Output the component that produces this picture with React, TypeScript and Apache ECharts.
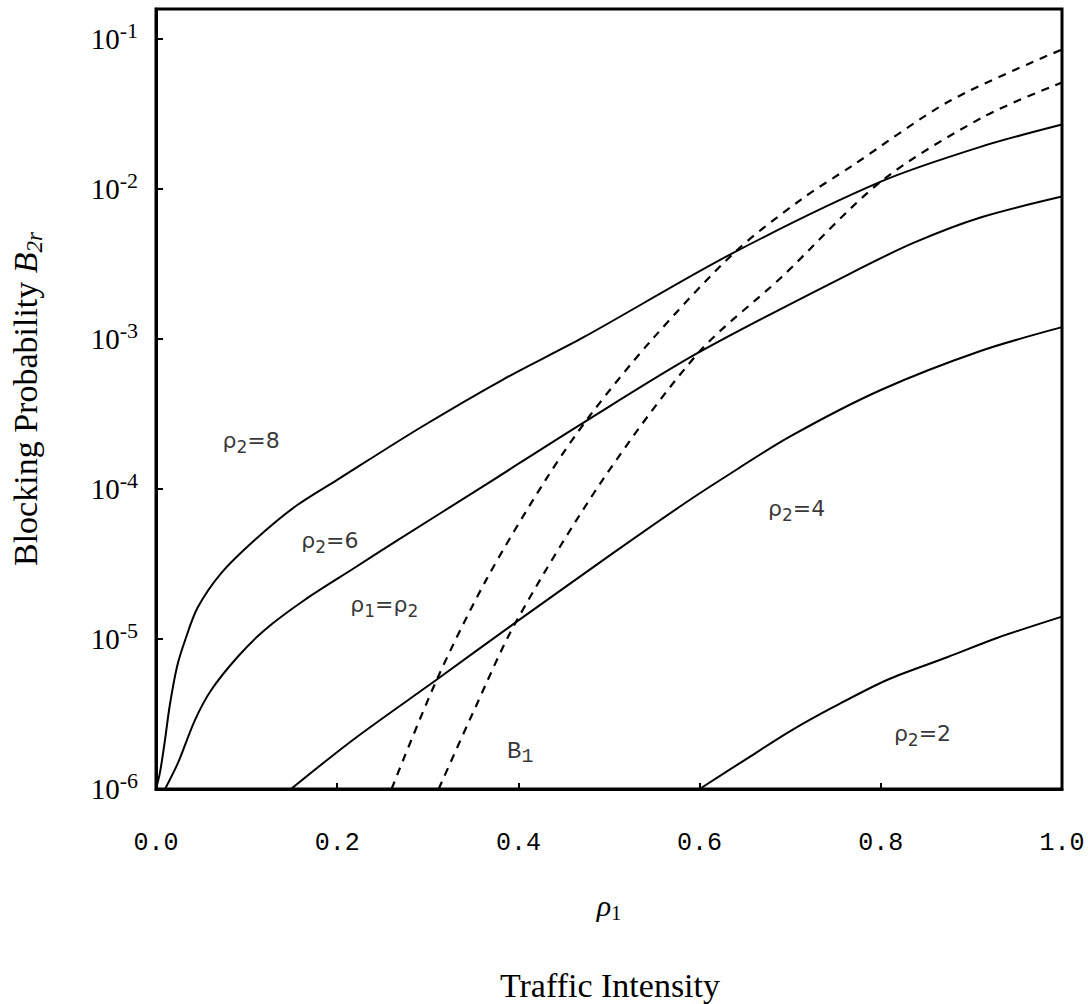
import React, { useEffect, useRef } from "react";
import * as echarts from "echarts";

// ---- data (x = rho1, y = blocking probability) ----
const rho8X = [0, 0.0044, 0.01, 0.015, 0.023, 0.032, 0.046, 0.072, 0.109, 0.153, 0.2, 0.292, 0.383, 0.471, 0.636, 0.8, 0.91, 1.0];
const rho8Y = [1.0e-6, 1.29e-6, 2.14e-6, 3.55e-6, 6.46e-6, 9.77e-6, 1.62e-5, 2.75e-5, 4.57e-5, 7.59e-5, 1.15e-4, 2.57e-4, 5.37e-4, 1.02e-3, 3.72e-3, 1.12e-2, 1.91e-2, 2.69e-2];

const rho6X = [0.01, 0.024, 0.043, 0.061, 0.09, 0.12, 0.164, 0.218, 0.262, 0.364, 0.471, 0.599, 0.764, 0.836, 0.91, 1.0];
const rho6Y = [1.0e-6, 1.48e-6, 2.88e-6, 4.57e-6, 7.59e-6, 1.15e-5, 1.82e-5, 2.95e-5, 4.37e-5, 1.07e-4, 2.75e-4, 8.13e-4, 2.69e-3, 4.37e-3, 6.46e-3, 8.91e-3];

const eqX = [0.149, 0.218, 0.31, 0.397, 0.504, 0.58, 0.625, 0.7, 0.8, 0.91, 1.0];
const eqY = [1.0e-6, 2.14e-6, 5.37e-6, 1.29e-5, 3.72e-5, 7.76e-5, 1.17e-4, 2.24e-4, 4.57e-4, 8.32e-4, 1.2e-3];

const rho2X = [0.6, 0.654, 0.701, 0.749, 0.808, 0.874, 0.929, 1.0];
const rho2Y = [1.0e-6, 1.62e-6, 2.45e-6, 3.55e-6, 5.37e-6, 7.59e-6, 1.02e-5, 1.41e-5];

const b1aX = [0.26, 0.31, 0.364, 0.43, 0.479, 0.548, 0.639, 0.712, 0.767, 0.877, 1.0];
const b1aY = [1.0e-6, 5.37e-6, 2.45e-5, 1.15e-4, 3.09e-4, 1.0e-3, 3.8e-3, 8.51e-3, 1.41e-2, 3.89e-2, 8.51e-2];

const b1bX = [0.312, 0.35, 0.397, 0.493, 0.599, 0.69, 0.8, 0.913, 1.0];
const b1bY = [1.0e-6, 3.24e-6, 1.29e-5, 1.15e-4, 8.13e-4, 2.57e-3, 1.12e-2, 3.02e-2, 5.13e-2];

// curve annotations: text pieces and data-space anchor
const labelTexts = ["{r|ρ}{s|2}{r|=8}", "{r|ρ}{s|2}{r|=6}", "{r|ρ}{s|1}{r|=ρ}{s|2}", "{m|B}{ms|1}", "{r|ρ}{s|2}{r|=4}", "{r|ρ}{s|2}{r|=2}"];
const labelX = [0.105, 0.192, 0.252, 0.402, 0.707, 0.846];
const labelY = [2.1e-4, 4.57e-5, 1.69e-5, 1.77e-6, 7.47e-5, 2.33e-6];

const Y_MIN = 1e-6;
const Y_MAX = 0.1585;

const zip = (xs: number[], ys: number[]) => xs.map((x, i) => [x, ys[i]]);

const SERIF = "'Liberation Serif', 'Times New Roman', serif";
const MONO = "'Liberation Mono', 'DejaVu Sans Mono', monospace";
const SANS = "'DejaVu Sans', 'Liberation Sans', sans-serif";

export default function App() {
  const ref = useRef<HTMLDivElement>(null);
  useEffect(() => {
    if (!ref.current) return;
    const chart = echarts.init(ref.current, undefined, { renderer: "svg" });

    const solid = (name: string, data: number[][]) => ({
      name,
      type: "line",
      data,
      showSymbol: false,
      symbol: "none",
      smooth: 0.3,
      lineStyle: { color: "#000", width: 2, type: "solid" },
      silent: true,
      z: 3,
    });
    const dashed = (name: string, data: number[][]) => ({
      name,
      type: "line",
      data,
      showSymbol: false,
      symbol: "none",
      smooth: 0.3,
      lineStyle: { color: "#000", width: 2.2, type: [8, 7] },
      silent: true,
      z: 3,
    });

    chart.setOption({
      animation: false,
      backgroundColor: "#fff",
      grid: {
        left: 151,
        right: 26,
        top: 9,
        bottom: 215,
        show: true,
        borderColor: "#000",
        borderWidth: 3,
        backgroundColor: "transparent",
      },
      xAxis: {
        type: "value",
        min: 0,
        max: 1,
        interval: 0.2,
        name: "{i|ρ}{s|1}",
        nameLocation: "middle",
        nameGap: 98,
        nameTextStyle: {
          rich: {
            i: { fontFamily: SERIF, fontStyle: "italic", fontSize: 30, color: "#000", lineHeight: 36, verticalAlign: "middle" },
            s: { fontFamily: SERIF, fontSize: 20, color: "#000", lineHeight: 20, verticalAlign: "bottom" },
          },
        },
        axisLine: { show: true, lineStyle: { color: "#000", width: 3 } },
        axisTick: { show: true, inside: true, length: 6, lineStyle: { color: "#000", width: 2 } },
        splitLine: { show: false },
        axisLabel: {
          margin: 42,
          fontFamily: MONO,
          fontSize: 25,
          color: "#000",
          formatter: (v: number) => v.toFixed(1),
        },
      },
      yAxis: {
        type: "log",
        logBase: 10,
        min: Y_MIN,
        max: Y_MAX,
        name: "{a|Blocking Probability }{b|B}{c|2r}",
        nameLocation: "middle",
        nameGap: 110,
        nameTextStyle: {
          rich: {
            a: { fontFamily: SERIF, fontSize: 34, color: "#000", lineHeight: 42, verticalAlign: "middle" },
            b: { fontFamily: SERIF, fontStyle: "italic", fontSize: 34, color: "#000", lineHeight: 42, verticalAlign: "middle" },
            c: { fontFamily: SERIF, fontStyle: "italic", fontSize: 23, color: "#000", lineHeight: 23, verticalAlign: "bottom" },
          },
        },
        axisLine: { show: true, lineStyle: { color: "#000", width: 3 } },
        axisTick: { show: true, inside: true, length: 7, lineStyle: { color: "#000", width: 2 } },
        splitLine: { show: false },
        minorTick: { show: false },
        axisLabel: {
          margin: 18,
          formatter: (v: number) => {
            const l = Math.log10(v);
            const e = Math.round(l);
            if (Math.abs(l - e) > 0.01) return "";
            return "{b|10}{s|" + String(e) + "}";
          },
          rich: {
            b: { fontFamily: SERIF, fontSize: 29, color: "#000", lineHeight: 40, verticalAlign: "middle" },
            s: { fontFamily: SERIF, fontSize: 22, color: "#000", lineHeight: 22, verticalAlign: "top" },
          },
        },
      },
      graphic: [
        {
          type: "text",
          style: {
            text: "Traffic Intensity",
            x: 610,
            y: 985,
            align: "center",
            verticalAlign: "middle",
            font: "34px " + SERIF,
            fill: "#000",
          },
        },
      ],
      series: [
        solid("ρ2=8", zip(rho8X, rho8Y)),
        solid("ρ2=6", zip(rho6X, rho6Y)),
        solid("ρ1=ρ2", zip(eqX, eqY)),
        solid("ρ2=2", zip(rho2X, rho2Y)),
        dashed("B1 (a)", zip(b1aX, b1aY)),
        dashed("B1 (b)", zip(b1bX, b1bY)),
        {
          name: "labels",
          type: "scatter",
          symbolSize: 0,
          silent: true,
          z: 5,
          data: labelX.map((x, i) => ({
            value: [x, labelY[i]],
            label: {
              show: true,
              position: "inside",
              formatter: labelTexts[i],
            },
          })),
          label: {
            show: true,
            position: "inside",
            rich: {
              r: { fontFamily: SANS, fontSize: 22, color: "#000", lineHeight: 30, verticalAlign: "middle" },
              s: { fontFamily: SANS, fontSize: 17, color: "#000", lineHeight: 17, verticalAlign: "bottom" },
              m: { fontFamily: MONO, fontSize: 24, color: "#000", lineHeight: 30, verticalAlign: "middle" },
              ms: { fontFamily: MONO, fontSize: 20, color: "#000", lineHeight: 20, verticalAlign: "bottom" },
            },
          },
        },
      ],
    });
    return () => chart.dispose();
  }, []);
  return (
    <div
      ref={ref}
      style={{ position: "absolute", left: 0, top: 0, width: 1088, height: 1004, background: "#fff" }}
    />
  );
}
